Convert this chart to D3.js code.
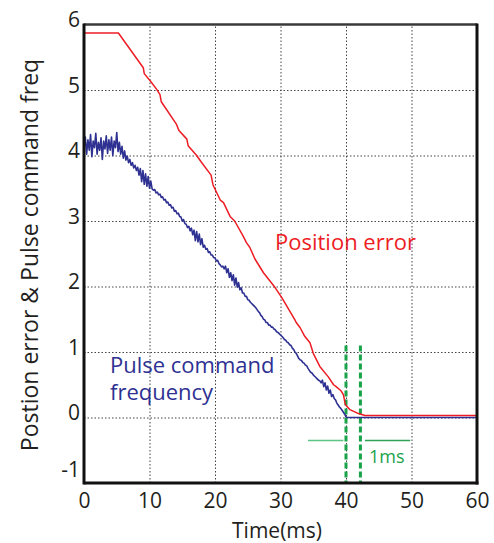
<!DOCTYPE html>
<html><head><meta charset="utf-8">
<script src="https://cdn.jsdelivr.net/npm/d3@7"></script>
<style>body{margin:0;background:#fff}svg{display:block}text{font-family:"Open Sans",sans-serif}</style>
</head><body><svg id="c" width="494" height="543"></svg>
<script>
// ---- data ----
const xTicks = [0, 10, 20, 30, 40, 50, 60];
const yTicks = [-1, 0, 1, 2, 3, 4, 5, 6];
const xTitle = "Time(ms)";
const yTitle = "Postion error & Pulse command freq";

// Position error (red)
const redTime = [0, 5.25, 9.05, 9.2, 10.1, 11.1, 11.6, 11.8, 14.1, 14.5, 15.7, 15.9, 16.4, 17.2, 17.9, 19.4, 19.7, 20.8, 21.3, 22.3, 23.0, 24.3, 24.8, 25.3, 26.1, 27.4, 29.2, 30.2, 32.2, 32.4, 33.0, 33.7, 34.5, 35.0, 36.0, 37.3, 38.1, 38.4, 39.1, 39.3, 39.6, 39.9, 40.6, 41.9, 42.9, 60];
const redVal = [5.87, 5.87, 5.34, 5.25, 5.14, 5.01, 4.93, 4.82, 4.48, 4.38, 4.25, 4.15, 4.09, 4.0, 3.9, 3.7, 3.55, 3.32, 3.28, 3.07, 3.0, 2.77, 2.67, 2.6, 2.42, 2.21, 1.98, 1.83, 1.49, 1.45, 1.37, 1.24, 1.14, 0.98, 0.78, 0.62, 0.5, 0.48, 0.42, 0.40, 0.35, 0.2, 0.12, 0.06, 0.03, 0.03];

// Pulse command frequency (blue), sampled every 0.2 ms from 0 to 40.2 ms, then flat
const blueVal = [
 4.12,4.28,4.02,4.24,4.08,4.32,3.98,4.22,4.12,4.34,4.02,4.20,4.08,4.27,3.94,4.22,4.10,4.30,4.03,4.24,
 4.08,4.28,4.00,4.22,4.12,4.35,4.06,4.20,4.02,4.14,3.96,4.07,3.93,3.99,3.89,3.94,3.85,3.89,3.81,3.85,
 3.77,3.82,3.70,3.80,3.60,3.77,3.56,3.72,3.53,3.68,3.50,3.61,3.49,3.47,3.48,3.43,3.44,3.40,3.41,3.36,
 3.37,3.32,3.33,3.28,3.29,3.24,3.25,3.20,3.21,3.15,3.16,3.11,3.12,3.07,3.06,3.00,3.02,2.96,2.95,2.90,
 2.92,2.85,2.89,2.79,2.86,2.70,2.84,2.68,2.80,2.64,2.73,2.60,2.63,2.57,2.58,2.52,2.53,2.48,2.48,2.44,
 2.44,2.39,2.40,2.35,2.33,2.30,2.31,2.27,2.31,2.21,2.27,2.14,2.21,2.09,2.18,2.02,2.13,1.99,2.06,1.95,
 1.98,1.90,1.90,1.85,1.85,1.80,1.79,1.76,1.74,1.72,1.70,1.68,1.65,1.62,1.60,1.56,1.54,1.50,1.49,1.45,
 1.45,1.41,1.41,1.38,1.38,1.35,1.34,1.31,1.30,1.28,1.26,1.24,1.22,1.19,1.18,1.15,1.14,1.11,1.10,1.06,
 1.04,1.00,0.98,0.94,0.90,0.88,0.87,0.84,0.83,0.80,0.79,0.75,0.72,0.69,0.68,0.65,0.63,0.61,0.59,0.57,
 0.56,0.53,0.57,0.47,0.53,0.42,0.48,0.37,0.42,0.32,0.35,0.29,0.27,0.22,0.19,0.16,0.14,0.11,0.08,0.05,
 0.01,0.00];
const blueStep = 0.2;
const blueTailTime = [60];
const blueTailVal = [0.0];

// annotation: 1 ms settling window
const markTimes = [40, 42.2];
const markTop = 1.1;
const markLabel = "1ms";
const seriesLabels = ["Position error", "Pulse command", "frequency"];

// ---- chart ----
const svg = d3.select("#c");
const L = 84, R = 477, T = 24.5, B = 483;
const x = d3.scaleLinear().domain([0, 60]).range([L, R]);
const y = d3.scaleLinear().domain([-1, 6]).range([B, T]);
const fmt = d => String(d);

const redData = redTime.map((t, i) => [t, redVal[i]]);
const blueData = blueVal.map((v, i) => [i * blueStep, v]).concat(blueTailTime.map((t, i) => [t, blueTailVal[i]]));

// grid
const gx = svg.append("g").attr("transform", `translate(0,${B})`)
  .call(d3.axisBottom(x).tickValues(xTicks.slice(1, -1)).tickSize(-(B - T)).tickFormat(""));
gx.select(".domain").remove();
gx.selectAll("line").attr("stroke", "#444").attr("stroke-width", 1).attr("stroke-dasharray", "1.5,2");
const gy = svg.append("g").attr("transform", `translate(${L},0)`)
  .call(d3.axisLeft(y).tickValues(yTicks.slice(1, -1)).tickSize(-(R - L)).tickFormat(""));
gy.select(".domain").remove();
gy.selectAll("line").attr("stroke", "#444").attr("stroke-width", 1).attr("stroke-dasharray", "1.5,2");

// tick labels
const ax = svg.append("g").attr("transform", `translate(0,${B})`)
  .call(d3.axisBottom(x).tickValues(xTicks).tickSize(0).tickPadding(0).tickFormat(fmt));
ax.select(".domain").remove();
ax.selectAll("text").attr("y", 25).attr("dy", null).attr("font-size", 21).attr("fill", "#231f20").attr("font-family", "Open Sans");
const ay = svg.append("g").attr("transform", `translate(${L},0)`)
  .call(d3.axisLeft(y).tickValues(yTicks).tickSize(0).tickPadding(0).tickFormat(fmt));
ay.select(".domain").remove();
ay.selectAll("text").attr("x", -4).attr("dy", null).attr("y", d => d === -1 ? -7 : 2)
  .attr("font-size", 21).attr("fill", "#231f20").attr("font-family", "Open Sans");

// green markers
const green = "#1aa34a";
svg.selectAll(".mark").data(markTimes).join("line")
  .attr("x1", d => x(d)).attr("x2", d => x(d)).attr("y1", y(markTop)).attr("y2", B)
  .attr("stroke", green).attr("stroke-width", 3).attr("stroke-dasharray", "6,3");
svg.append("line").attr("x1", x(34.2)).attr("x2", x(39.6)).attr("y1", y(-0.35)).attr("y2", y(-0.35))
  .attr("stroke", "#5cc485").attr("stroke-width", 1.5);
svg.append("line").attr("x1", x(42.9)).attr("x2", x(49.8)).attr("y1", y(-0.35)).attr("y2", y(-0.35))
  .attr("stroke", "#2ea356").attr("stroke-width", 1.5);
svg.append("text").attr("x", x(43.5)).attr("y", y(-0.7)).text(markLabel)
  .attr("fill", green).attr("font-size", 18);

// lines
const line = d3.line().x(d => x(d[0])).y(d => y(d[1]));
svg.append("path").datum(blueData).attr("d", line).attr("fill", "none")
  .attr("stroke", "#2e3192").attr("stroke-width", 1.6).attr("stroke-linejoin", "round");
svg.append("path").datum(redData).attr("d", line).attr("fill", "none")
  .attr("stroke", "#ed1c24").attr("stroke-width", 1.5).attr("stroke-linejoin", "round");

// frame
svg.append("line").attr("x1", L).attr("x2", R).attr("y1", T).attr("y2", T).attr("stroke", "#3a3a3a").attr("stroke-width", 2.5);
svg.append("line").attr("x1", R).attr("x2", R).attr("y1", T - 1).attr("y2", B + 1.5).attr("stroke", "#111").attr("stroke-width", 3);
svg.append("line").attr("x1", L).attr("x2", L).attr("y1", T - 1).attr("y2", B + 1.5).attr("stroke", "#111").attr("stroke-width", 3);
svg.append("line").attr("x1", L).attr("x2", R + 1.5).attr("y1", B).attr("y2", B).attr("stroke", "#111").attr("stroke-width", 3);

// series labels
svg.append("text").attr("x", 275).attr("y", 250).text(seriesLabels[0]).attr("fill", "#ed1c24").attr("font-size", 22);
svg.append("text").attr("x", 110).attr("y", 373).text(seriesLabels[1]).attr("fill", "#2e3192").attr("font-size", 22);
svg.append("text").attr("x", 110).attr("y", 400).text(seriesLabels[2]).attr("fill", "#2e3192").attr("font-size", 22);

// axis titles
svg.append("text").attr("x", 277).attr("y", 538).attr("text-anchor", "middle").text(xTitle)
  .attr("font-size", 21).attr("fill", "#231f20");
svg.append("text").attr("transform", "translate(38,255) rotate(-90)").attr("text-anchor", "middle").text(yTitle)
  .attr("font-size", 23).attr("fill", "#231f20");
</script></body></html>
